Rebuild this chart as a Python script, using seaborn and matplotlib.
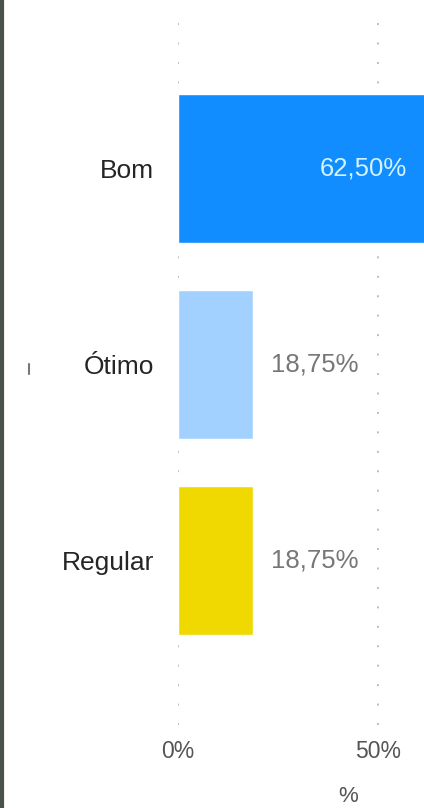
import matplotlib
matplotlib.use("Agg")
import matplotlib.pyplot as plt
from matplotlib import font_manager
from matplotlib.lines import Line2D
import seaborn as sns
import pandas as pd

# Survey answers and their share of responses (%)
categories = ["Bom", "Ótimo", "Regular"]
shares = [62.50, 18.75, 18.75]
bar_colors = ["#118DFF", "#A3D1FF", "#EFD900"]
tick_values = [0, 50]
tick_labels = ["0%", "50%"]

sns.set_theme(style="white")
installed = {f.name for f in font_manager.fontManager.ttflist}
narrow = "Liberation Sans Narrow" if "Liberation Sans Narrow" in installed else "Liberation Sans"
plt.rcParams["font.family"] = [narrow, "DejaVu Sans"]

df = pd.DataFrame({"categoria": categories, "pct": shares})

fig = plt.figure(figsize=(4.24, 8.08), dpi=100)
ax = fig.add_axes([178 / 424, 83 / 808, 1 - 178 / 424, 705 / 808])

sns.barplot(data=df, x="pct", y="categoria", hue="categoria",
            palette=bar_colors, legend=False, orient="h", width=0.76,
            saturation=1, ax=ax)

ax.set_xlim(0, 61.5)
ax.set_ylim(2.84, -0.755)

# dotted vertical gridlines
for v in tick_values:
    ax.axvline(v, color="#BDBDBD", lw=1.4, ls=(0, (1, 9)), zorder=0)

for s in ax.spines.values():
    s.set_visible(False)

ax.set_xticks(tick_values)
ax.set_xticklabels(tick_labels, fontsize=16.5, color="#555555")
ax.tick_params(axis="x", length=0, pad=11)
ax.tick_params(axis="y", length=0, pad=17, labelsize=19, labelcolor="#252525")
ax.set_xlabel("")
ax.set_ylabel("")

# value labels
for i, v in enumerate(shares):
    txt = f"{v:.2f}".replace(".", ",") + "%"
    if v > ax.get_xlim()[1] * 0.5:
        ax.annotate(txt, (ax.get_xlim()[1], i), xytext=(-12, 0),
                    textcoords="offset points", ha="right", va="center",
                    fontsize=18.5, color="#D2F2FF")
    else:
        ax.annotate(txt, (v, i), xytext=(13, 0), textcoords="offset points",
                    ha="left", va="center", fontsize=18.5, color="#777777")

fig.text(348 / 424, 1 - 796 / 808, "%", ha="center", va="center",
         fontsize=16, color="#555555")

# left frame edge and small marker
fig.add_artist(Line2D([2 / 424, 2 / 424], [0, 1], transform=fig.transFigure,
                      color="#4A504A", lw=3))
fig.add_artist(Line2D([29 / 424, 29 / 424], [1 - 374 / 808, 1 - 364 / 808],
                      transform=fig.transFigure, color="#777777", lw=1.5))

fig.savefig("out.png", dpi=100)
